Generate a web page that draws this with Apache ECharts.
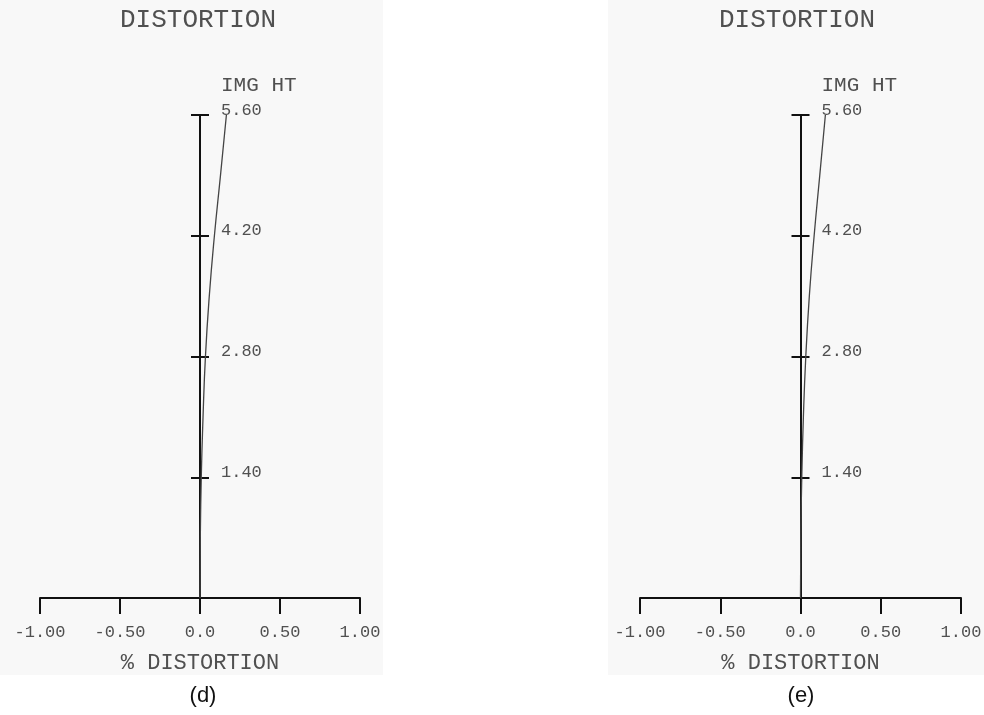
<!DOCTYPE html>
<html>
<head>
<meta charset="utf-8">
<script src="https://cdn.jsdelivr.net/npm/echarts@6/dist/echarts.min.js"></script>
<style>
html,body{margin:0;padding:0;background:#ffffff;}
#chart{width:984px;height:715px;}
</style>
</head>
<body>
<div id="chart"></div>
<script>
// Image height (field) values, shared by both panels
const imgHeight = [0, 0.7, 1.4, 2.1, 2.8, 3.5, 4.2, 4.9, 5.6];
// % distortion for panel (d)
const distortionD = [0, 0.002, 0.008, 0.019, 0.034, 0.058, 0.090, 0.128, 0.165];
// % distortion for panel (e)
const distortionE = [0, 0.002, 0.008, 0.018, 0.033, 0.055, 0.085, 0.120, 0.155];
// Axis tick settings
const yTicks = [1.40, 2.80, 4.20, 5.60];
const xTicks = [-1.00, -0.50, 0.0, 0.50, 1.00];
const panelTitles = ['DISTORTION', 'DISTORTION'];
const panelLabels = ['(d)', '(e)'];
const xAxisName = '% DISTORTION';
const yAxisName = 'IMG HT';

const mono = 'Liberation Mono';
const textColor = '#505050';
const axisColor = '#111';

const panelBoxes = [
  {left: 40, width: 320, top: 115, height: 483},
  {left: 640, width: 321, top: 115, height: 483}
];
// right half of each panel (from x = 0 to x = 1), where the image-height axis sits
const halfBoxes = panelBoxes.map(b => ({left: b.left + b.width / 2, width: b.width / 2, top: b.top, height: b.height}));

const gridOpts = b => Object.assign({outerBoundsMode: 'none', containLabel: false}, b);
// grids 0,1: plot panels; 2,3: y axis with labels (inside ticks); 4,5: y axis outward ticks
const grids = panelBoxes.map(gridOpts).concat(halfBoxes.map(gridOpts), halfBoxes.map(gridOpts));

const yMax = yTicks[yTicks.length - 1];

function mainXAxis(i) {
  return {
    type: 'value', gridIndex: i, min: xTicks[0], max: xTicks[xTicks.length - 1], interval: 0.5,
    axisLine: {show: true, onZero: false, lineStyle: {color: axisColor, width: 2}},
    axisTick: {show: true, length: 16, lineStyle: {color: axisColor, width: 2}},
    splitLine: {show: false},
    axisLabel: {
      margin: 26, fontFamily: mono, fontSize: 17, color: textColor,
      formatter: v => (v === 0 ? '0.0' : v.toFixed(2))
    },
    name: xAxisName, nameLocation: 'middle', nameGap: 54,
    nameTextStyle: {fontFamily: mono, fontSize: 22, color: textColor}
  };
}
function hiddenXAxis(i, lo) {
  return {type: 'value', gridIndex: i, min: lo, max: 1, show: false, splitLine: {show: false}};
}
function hiddenYAxis(i) {
  return {type: 'value', gridIndex: i, min: 0, max: yMax, interval: 1.4, show: false, splitLine: {show: false}};
}
function labelYAxis(i) {
  return {
    type: 'value', gridIndex: i, min: 0, max: yMax, interval: 1.4,
    position: 'left',
    axisLine: {show: true, onZero: false, lineStyle: {color: axisColor, width: 2}},
    axisTick: {show: true, inside: true, length: 9, lineStyle: {color: axisColor, width: 2}},
    splitLine: {show: false},
    axisLabel: {
      inside: true, margin: 21, fontFamily: mono, fontSize: 17, color: textColor,
      verticalAlign: 'bottom', lineHeight: 10,
      formatter: v => (v === 0 ? '' : v.toFixed(2))
    },
    name: yAxisName, nameLocation: 'end', nameGap: 30,
    nameTextStyle: {fontFamily: mono, fontSize: 21, color: textColor, align: 'left', verticalAlign: 'middle', padding: [0, 0, 0, 21]}
  };
}
function tickYAxis(i) {
  return {
    type: 'value', gridIndex: i, min: 0, max: yMax, interval: 1.4,
    position: 'left',
    axisLine: {show: false, onZero: false},
    axisTick: {show: true, inside: false, length: 9, lineStyle: {color: axisColor, width: 2}},
    axisLabel: {show: false},
    splitLine: {show: false}
  };
}

function seriesFor(i, values) {
  return {
    type: 'line', xAxisIndex: i, yAxisIndex: i,
    data: imgHeight.map((h, k) => [values[k], h]),
    smooth: true, showSymbol: false, silent: true, z: 5,
    lineStyle: {color: '#444', width: 1.3}
  };
}

const chart = echarts.init(document.getElementById('chart'), null, {renderer: 'canvas'});
chart.setOption({
  backgroundColor: '#ffffff',
  animation: false,
  graphic: [
    {type: 'rect', z: -10, shape: {x: 0, y: 0, width: 383, height: 675}, style: {fill: '#f8f8f8'}},
    {type: 'rect', z: -10, shape: {x: 608, y: 0, width: 376, height: 675}, style: {fill: '#f8f8f8'}}
  ],
  title: [
    {text: panelTitles[0], left: 193, top: 2, textAlign: 'center', textStyle: {fontFamily: mono, fontSize: 26, fontWeight: 'normal', color: textColor}},
    {text: panelTitles[1], left: 792, top: 2, textAlign: 'center', textStyle: {fontFamily: mono, fontSize: 26, fontWeight: 'normal', color: textColor}},
    {text: panelLabels[0], left: 198, top: 680, textAlign: 'center', textStyle: {fontFamily: 'Liberation Sans', fontSize: 22, fontWeight: 'normal', color: '#111'}},
    {text: panelLabels[1], left: 796, top: 680, textAlign: 'center', textStyle: {fontFamily: 'Liberation Sans', fontSize: 22, fontWeight: 'normal', color: '#111'}}
  ],
  grid: grids,
  xAxis: [mainXAxis(0), mainXAxis(1), hiddenXAxis(2, 0), hiddenXAxis(3, 0), hiddenXAxis(4, 0), hiddenXAxis(5, 0)],
  yAxis: [hiddenYAxis(0), hiddenYAxis(1), labelYAxis(2), labelYAxis(3), tickYAxis(4), tickYAxis(5)],
  series: [seriesFor(0, distortionD), seriesFor(1, distortionE)]
});
</script>
</body>
</html>
